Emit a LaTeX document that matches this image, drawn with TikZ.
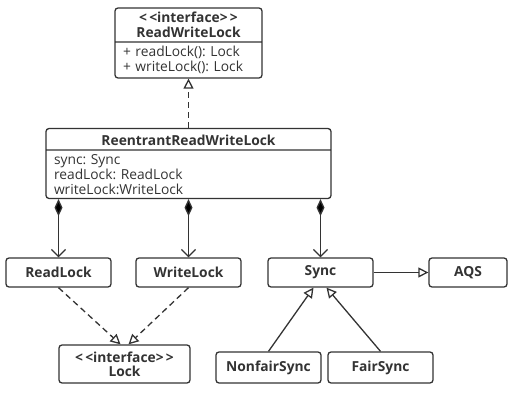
\documentclass[tikz,border=0pt]{standalone}
\usepackage{fontspec}
\setmainfont{Open Sans}
\usetikzlibrary{shapes,arrows.meta,positioning}
\newcommand{\umlfont}{\fontsize{13.8pt}{15pt}\selectfont\frenchspacing}
\definecolor{umlgray}{HTML}{333333}
\tikzstyle{block} = [rectangle, draw=umlgray, text=umlgray, line width=1.3pt,
    rounded corners=3pt, minimum width=105pt, minimum height=29pt, font=\umlfont\bfseries]
\tikzstyle{classbox} = [rectangle split, rectangle split parts=2, draw=umlgray,
    text=umlgray, line width=1.3pt, rounded corners=3pt, inner xsep=8pt, inner ysep=3.5pt,
    font=\umlfont]
\tikzstyle{line} = [draw=umlgray, line width=1.3pt]
\tikzstyle{realize} = [line, dash pattern=on 6pt off 4pt, -{Triangle[open,length=10pt,width=10pt]}]
\tikzstyle{inherit} = [line, -{Triangle[open,length=10pt,width=10pt]}]
\tikzstyle{compose} = [line, {Diamond[length=17pt,width=8pt]}-{Straight Barb[length=7pt,width=14pt]}]

\begin{document}
\begin{tikzpicture}[node distance = 2cm, auto]
    \useasboundingbox (0,0) rectangle (512pt,-406pt);
    % Place nodes
    \node [classbox, text width=131pt] (rwl) at (188.5pt,-43pt)
        {\centering\textbf{<\,<interface>\,>}\\\textbf{ReadWriteLock}\par
         \nodepart{second}\raggedright + readLock(): Lock\\+ writeLock(): Lock};
    \node [classbox, text width=269pt, below of=rwl, node distance=120.5pt] (rrwl)
        {\centering\rule{0pt}{13pt}\textbf{ReentrantReadWriteLock}\par
         \nodepart{second}\raggedright sync: Sync\\readLock: ReadLock\\writeLock:WriteLock};
    \node [block, below of=rrwl, node distance=109pt] (writelock) {WriteLock};
    \node [block, left of=writelock, node distance=130pt] (readlock) {ReadLock};
    \node [block, right of=writelock, node distance=132pt] (sync) {Sync};
    \node [block, right of=sync, node distance=147.5pt, minimum width=78pt] (aqs) {AQS};
    \node [block, below of=readlock, node distance=91.5pt, xshift=66pt,
        minimum width=131pt, minimum height=38pt, align=center, text depth=0pt] (lock)
        {<\,<interface>\,>\\[-1pt]Lock};
    \node [block, below of=sync, node distance=95pt, xshift=-52pt, minimum height=31pt] (nonfair) {NonfairSync};
    \node [block, right of=nonfair, node distance=112pt, minimum height=31pt] (fair) {FairSync};
    % Draw edges
    \path [realize] (rrwl.north) -- (rwl.south);
    \path [compose] (readlock.north |- rrwl.south) -- (readlock);
    \path [compose] (writelock.north |- rrwl.south) -- (writelock);
    \path [compose] (sync.north |- rrwl.south) -- (sync);
    \path [inherit] (sync) -- (aqs);
    \path [realize] (readlock.south) -- ([xshift=-4pt] lock.north);
    \path [realize] (writelock.south) -- ([xshift=4pt] lock.north);
    \path [inherit] (nonfair.north) -- ([xshift=-7pt] sync.south);
    \path [inherit] (fair.north) -- ([xshift=6pt] sync.south);
\end{tikzpicture}
\end{document}
